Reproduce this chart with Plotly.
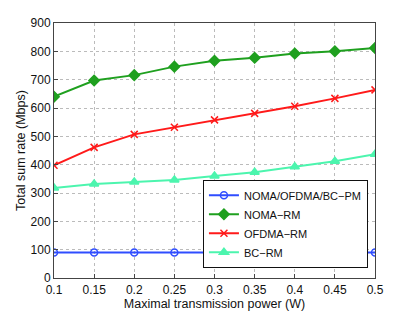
import plotly.graph_objects as go

power = [0.1, 0.15, 0.2, 0.25, 0.3, 0.35, 0.4, 0.45, 0.5]
pm = [90, 90, 90, 90, 90, 90, 90, 90, 90]
noma_rm = [640, 697, 716, 746, 767, 777, 792, 800, 812]
ofdma_rm = [398, 461, 507, 532, 558, 581, 606, 634, 664]
bc_rm = [318, 332, 339, 346, 360, 373, 393, 412, 437]
xticks = [0.1, 0.15, 0.2, 0.25, 0.3, 0.35, 0.4, 0.45, 0.5]
xticklabels = ["0.1", "0.15", "0.2", "0.25", "0.3", "0.35", "0.4", "0.45", "0.5"]
yticks = [0, 100, 200, 300, 400, 500, 600, 700, 800, 900]

series = [
    ("NOMA/OFDMA/BC\u2212PM", pm, "#2f4dff", "circle-open", 7),
    ("NOMA\u2212RM", noma_rm, "#1fa01f", "diamond", 8),
    ("OFDMA\u2212RM", ofdma_rm, "#ff1a1a", "x-thin-open", 7),
    ("BC\u2212RM", bc_rm, "#4cf5ae", "triangle-up", 8),
]

fig = go.Figure()
for name, vals, color, sym, size in series:
    fig.add_trace(go.Scatter(
        x=power, y=vals, name=name, mode="lines+markers",
        line=dict(color=color, width=2),
        marker=dict(symbol=sym, size=size, color=color,
                    line=dict(color=color, width=1.5)),
    ))

# The page body adds an 8px offset, so the figure is sized to fit the window.
font = dict(family="Liberation Sans, Arial, sans-serif", size=12, color="#111")
fig.update_layout(
    width=407, height=305,
    margin=dict(l=46, r=40, t=15, b=35),
    paper_bgcolor="white", plot_bgcolor="white",
    font=font,
    showlegend=True,
    legend=dict(x=0.464, y=0.385, xanchor="left", yanchor="top",
                bgcolor="white", bordercolor="#111", borderwidth=1,
                font=dict(size=11), tracegroupgap=0,
                itemwidth=30),
)
fig.update_xaxes(
    range=[0.1, 0.5], tickvals=xticks, ticktext=xticklabels,
    title=dict(text="Maximal transmission power (W)", standoff=0, font=dict(size=12.5)),
    automargin=False, ticklabelstandoff=1,
    showline=True, linecolor="#444", linewidth=1, mirror=True,
    ticks="inside", ticklen=4, tickcolor="#444",
    showgrid=True, gridcolor="#bbb", griddash="dot", gridwidth=1,
    zeroline=False,
)
fig.update_yaxes(
    range=[0, 900], tickvals=yticks,
    title=dict(text="Total sum rate (Mbps)", standoff=2, font=dict(size=12.5)),
    automargin=False, ticklabelstandoff=0,
    showline=True, linecolor="#444", linewidth=1, mirror=True,
    ticks="inside", ticklen=4, tickcolor="#444",
    showgrid=True, gridcolor="#bbb", griddash="dot", gridwidth=1,
    zeroline=False,
)
fig.write_html("out.html")
